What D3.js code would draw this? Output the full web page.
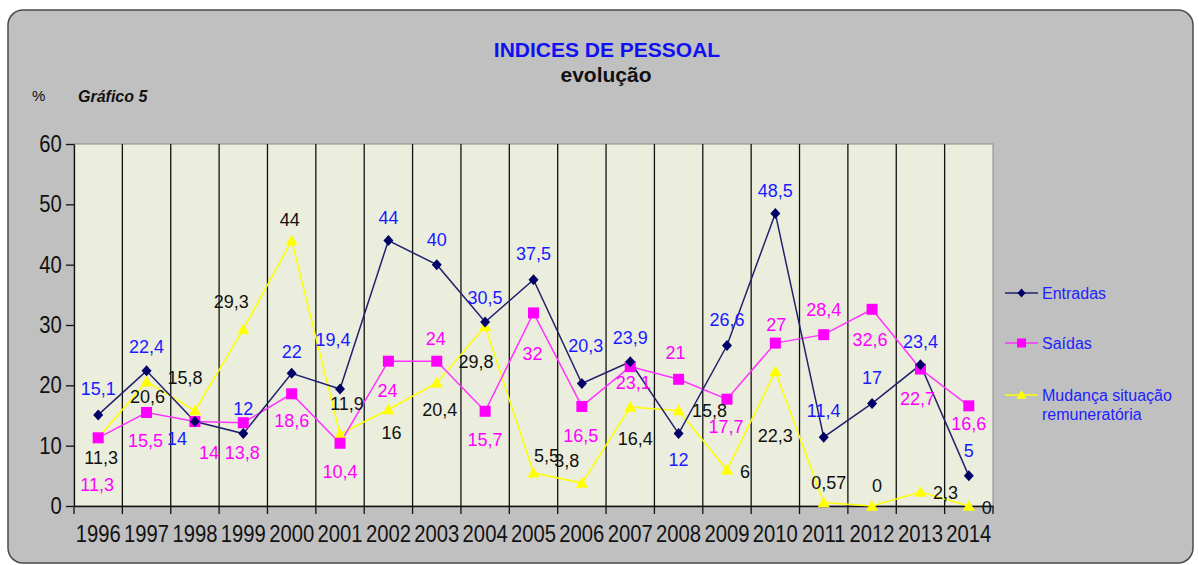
<!DOCTYPE html>
<html>
<head>
<meta charset="utf-8">
<script src="https://cdn.jsdelivr.net/npm/d3@7"></script>
<style>
  body { margin: 0; background: #fff; }
  text { font-family: "Liberation Sans", Arial, sans-serif; }
</style>
</head>
<body>
<div id="chart"></div>
<script>
// data
var years = ["1996", "1997", "1998", "1999", "2000", "2001", "2002", "2003", "2004", "2005",
    "2006", "2007", "2008", "2009", "2010", "2011", "2012", "2013", "2014"];
var entradas = [15.1, 22.4, 14, 12, 22, 19.4, 44, 40, 30.5, 37.5, 20.3, 23.9, 12, 26.6, 48.5, 11.4, 17, 23.4, 5];
var saidas = [11.3, 15.5, 14, 13.8, 18.6, 10.4, 24, 24, 15.7, 32, 16.5, 23.1, 21, 17.7, 27, 28.4, 32.6, 22.7, 16.6];
var mudanca = [11.3, 20.6, 15.8, 29.3, 44, 11.9, 16, 20.4, 29.8, 5.5, 3.8, 16.4, 15.8, 6, 22.3, 0.57, 0, 2.3, 0];
var yTicks = [0, 10, 20, 30, 40, 50, 60];

// label placement (offset of label centre from the point), like the excel labels
var entradasLbl = [[0,-26],[0,-24],[-18,17],[0,-25],[0,-22],[-7,-49],[0,-23],[0,-25],[0,-24],[0,-26],
    [4,-38],[0,-24],[0,26],[0,-26],[0,-23],[0,-27],[0,-26],[0,-23],[0,-25]];
var saidasLbl = [[-1,47],[-1,28],[14,31],[-1,30],[0,27],[0,28],[-1,29],[-1,-23],[0,28],[-1,41],
    [-1,29],[3,16],[-3,-27],[-1,27],[1,-19],[0,-25],[-2,30],[-3,29],[0,18]];
var mudancaLbl = [[3,20],[1,15],[-10,-33],[-12,-28],[-2,-21],[7,-31],[3,23],[3,27],[-9,35],[13,-17],
    [-15,-23],[5,31],[31,0],[18,2],[0,64],[5,-20],[5,-20],[25,0],[18,2]];

var W = 1199, H = 565;
var plot = {left: 74, right: 993, top: 144, bottom: 506};

var svg = d3.select("#chart").append("svg")
    .attr("width", W)
    .attr("height", H);

// frame
svg.append("rect")
    .attr("x", 8).attr("y", 10)
    .attr("width", 1185).attr("height", 553)
    .attr("rx", 15).attr("ry", 15)
    .attr("fill", "#c0c0c0")
    .attr("stroke", "#4a4a4a")
    .attr("stroke-width", 1.5);

var x = d3.scaleBand().domain(years).range([plot.left, plot.right]).padding(0);
var y = d3.scaleLinear().domain([0, 60]).range([plot.bottom, plot.top]);

function cx(d, i) { return x(years[i]) + x.bandwidth() / 2; }

// plot area
svg.append("rect")
    .attr("x", plot.left).attr("y", plot.top)
    .attr("width", plot.right - plot.left).attr("height", plot.bottom - plot.top)
    .attr("fill", "#ebeedd")
    .attr("stroke", "#8a8a8a")
    .attr("stroke-width", 1);

// vertical grid at category boundaries + ticks below
var bounds = years.slice(1).map(function (d) { return x(d); });
svg.append("g").selectAll("line")
    .data(bounds)
    .enter().append("line")
    .attr("x1", function (d) { return d; }).attr("x2", function (d) { return d; })
    .attr("y1", plot.top).attr("y2", plot.bottom + 8)
    .attr("stroke", "#111")
    .attr("stroke-width", 1.3);
svg.append("g").selectAll("line")
    .data([plot.left, plot.right])
    .enter().append("line")
    .attr("x1", function (d) { return d; }).attr("x2", function (d) { return d; })
    .attr("y1", plot.bottom).attr("y2", plot.bottom + 8)
    .attr("stroke", "#111")
    .attr("stroke-width", 1.3);

// axes
var yAxis = svg.append("g")
    .attr("transform", "translate(" + plot.left + ",0)")
    .call(d3.axisLeft(y).tickValues(yTicks).tickSize(8).tickSizeOuter(0).tickPadding(6));
yAxis.selectAll("text")
    .attr("font-size", "23px")
    .attr("fill", "#111")
    .attr("transform", "scale(0.88,1)");

var xAxis = svg.append("g")
    .attr("transform", "translate(0," + plot.bottom + ")")
    .call(d3.axisBottom(x).tickSize(0).tickPadding(20));
xAxis.selectAll("text")
    .attr("font-size", "23px")
    .attr("fill", "#111")
    .attr("transform", "scale(0.88,1)")
    .attr("x", function (d) { return (x.bandwidth() / 2) * 0; });
xAxis.selectAll(".tick").attr("transform", function (d) {
    return "translate(" + (x(d) + x.bandwidth() / 2) + ",0)";
});
svg.selectAll(".domain").attr("stroke", "#111").attr("stroke-width", 1.3);
svg.selectAll(".tick line").attr("stroke", "#111").attr("stroke-width", 1.3);

// series
var series = [
    {name: "Entradas", values: entradas, lbl: entradasLbl, line: "#22226e", fill: "#000066", text: "#1a1aff", shape: "diamond"},
    {name: "Saídas", values: saidas, lbl: saidasLbl, line: "#ff33ff", fill: "#ff00ff", text: "#ff00ff", shape: "square"},
    {name: "Mudança situação", values: mudanca, lbl: mudancaLbl, line: "#ffff00", fill: "#ffff00", text: "#111", shape: "triangle"}
];

function markerPath(shape, s) {
    if (shape === "diamond") {
        return "M0," + (-s * 1.1) + "L" + s + ",0L0," + (s * 1.1) + "L" + (-s) + ",0Z";
    } else if (shape === "square") {
        return "M" + (-s) + "," + (-s) + "h" + (2 * s) + "v" + (2 * s) + "h" + (-2 * s) + "Z";
    } else {
        return "M0," + (-s * 1.1) + "L" + (s * 1.1) + "," + (s * 0.85) + "L" + (-s * 1.1) + "," + (s * 0.85) + "Z";
    }
}
var markerSize = {diamond: 5, square: 5.5, triangle: 5.5};

var line = d3.line()
    .x(function (d, i) { return cx(d, i); })
    .y(function (d) { return y(d); });

// draw in order: yellow, magenta, navy (navy on top)
[series[2], series[1], series[0]].forEach(function (s) {
    svg.append("path")
        .datum(s.values)
        .attr("d", line)
        .attr("fill", "none")
        .attr("stroke", s.line)
        .attr("stroke-width", 1.5);
});
[series[2], series[1], series[0]].forEach(function (s) {
    svg.append("g").selectAll("path")
        .data(s.values)
        .enter().append("path")
        .attr("d", markerPath(s.shape, markerSize[s.shape]))
        .attr("transform", function (d, i) { return "translate(" + cx(d, i) + "," + y(d) + ")"; })
        .attr("fill", s.fill);
});

function fmt(v) { return String(v).replace(".", ","); }

series.forEach(function (s) {
    svg.append("g").selectAll("text")
        .data(s.values)
        .enter().append("text")
        .attr("x", function (d, i) { return cx(d, i) + s.lbl[i][0]; })
        .attr("y", function (d, i) { return y(d) + s.lbl[i][1]; })
        .attr("dy", "0.36em")
        .attr("text-anchor", "middle")
        .attr("font-size", "18px")
        .attr("fill", s.text)
        .text(fmt);
});

// titles
svg.append("text")
    .attr("x", 607).attr("y", 57)
    .attr("text-anchor", "middle")
    .attr("font-size", "21px")
    .attr("font-weight", "bold")
    .attr("fill", "#1010f0")
    .text("INDICES DE PESSOAL");
svg.append("text")
    .attr("x", 606).attr("y", 82)
    .attr("text-anchor", "middle")
    .attr("font-size", "21px")
    .attr("font-weight", "bold")
    .attr("fill", "#111")
    .text("evolução");
svg.append("text")
    .attr("x", 32).attr("y", 101)
    .attr("font-size", "15px")
    .attr("fill", "#111")
    .text("%");
svg.append("text")
    .attr("x", 78).attr("y", 102)
    .attr("font-size", "16px")
    .attr("font-weight", "bold")
    .attr("font-style", "italic")
    .attr("fill", "#111")
    .text("Gráfico 5");

// legend
var legendY = [293, 343, 395];
var legend = svg.selectAll(".legend")
    .data(series)
    .enter().append("g")
    .attr("class", "legend")
    .attr("transform", function (d, i) { return "translate(1005," + legendY[i] + ")"; });
legend.append("line")
    .attr("x1", 0).attr("x2", 33)
    .attr("stroke", function (d) { return d.line; })
    .attr("stroke-width", 1.5);
legend.append("path")
    .attr("d", function (d) { return markerPath(d.shape, d.shape === "diamond" ? 4 : 4.5); })
    .attr("transform", "translate(16.5,0)")
    .attr("fill", function (d) { return d.fill; });
legend.append("text")
    .attr("x", 37)
    .attr("dy", "0.36em")
    .attr("font-size", "16px")
    .attr("fill", "#2020ff")
    .text(function (d) { return d.name; });
svg.append("text")
    .attr("x", 1042).attr("y", 414)
    .attr("dy", "0.36em")
    .attr("font-size", "16px")
    .attr("fill", "#2020ff")
    .text("remuneratória");
</script>
</body>
</html>
